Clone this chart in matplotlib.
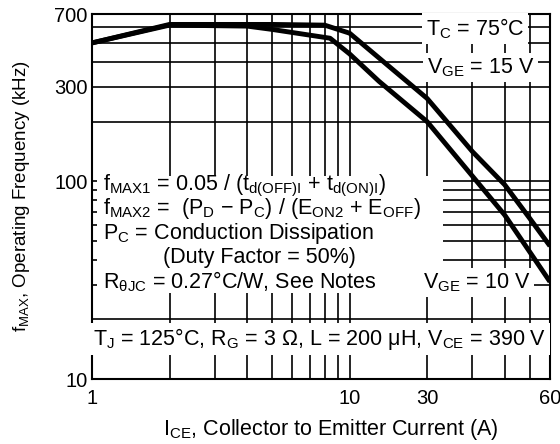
import numpy as np
import matplotlib
matplotlib.use('Agg')
import matplotlib.pyplot as plt
from matplotlib.patches import Rectangle

plt.rcParams['font.family'] = ['Liberation Sans', 'DejaVu Sans']
plt.rcParams['mathtext.fontset'] = 'custom'
plt.rcParams['mathtext.rm'] = 'Liberation Sans'
plt.rcParams['mathtext.it'] = 'Liberation Sans'
plt.rcParams['mathtext.bf'] = 'Liberation Sans:bold'

# curves (I_CE in A, f_MAX in kHz)
ice_15 = [1, 2, 5, 8, 10, 20, 30, 40, 50, 60]
fmax_15 = [500, 620, 620, 615, 560, 262, 141, 96, 65, 47]
ice_10 = [1, 2, 4, 5, 8.4, 10, 13, 20, 30, 40, 50, 60]
fmax_10 = [500, 615, 608, 585, 528, 440, 320, 200, 106, 67.5, 44, 31]

# axis ticks (the sheet prints "30" on the 20 A line)
x_major = [1, 10, 20, 60]
x_labels = ['1', '10', '30', '60']
x_minor = [2, 3, 4, 5, 6, 7, 8, 9, 30, 40, 50]
y_major = [10, 100, 300, 700]
y_labels = ['10', '100', '300', '700']
y_minor = [20, 30, 40, 50, 60, 70, 80, 90, 200, 400, 500, 600]

fs = 15.5

fig = plt.figure(figsize=(5.6, 4.44), dpi=100)
ax = fig.add_axes([92/560, 1-379/444, 458/560, 365/444])
ax.set_xscale('log')
ax.set_yscale('log')
ax.set_xlim(1, 60)
ax.set_ylim(10, 700)

ax.set_xticks(x_major)
ax.set_xticklabels(x_labels)
ax.set_xticks(x_minor, minor=True)
ax.set_xticklabels([], minor=True)
ax.set_yticks(y_major)
ax.set_yticklabels(y_labels)
ax.set_yticks(y_minor, minor=True)
ax.set_yticklabels([], minor=True)
ax.tick_params(which='both', length=0, labelsize=14.5)
ax.tick_params(axis='x', pad=7)
ax.tick_params(axis='y', pad=3)
ax.grid(which='both', color='black', lw=1.2)
for s in ax.spines.values():
    s.set_linewidth(1.5)

ax.plot(ice_15, fmax_15, color='black', lw=3.5, zorder=4, solid_capstyle='butt')
ax.plot(ice_10, fmax_10, color='black', lw=3.5, zorder=4, solid_capstyle='butt')

# white block behind the formula text
ax.add_patch(Rectangle((0.011, 0.236), 0.755, 0.320, transform=ax.transAxes,
                       facecolor='white', edgecolor='none', zorder=2.5))

tx = 0.024
ax.text(tx, 0.518, r'f$_{MAX1}$ = 0.05 / (t$_{d(OFF)I}$ + t$_{d(ON)I}$)',
        transform=ax.transAxes, fontsize=fs, va='baseline', zorder=5)
ax.text(tx, 0.452, r'f$_{MAX2}$ =  (P$_D$ $-$ P$_C$) / (E$_{ON2}$ + E$_{OFF}$)',
        transform=ax.transAxes, fontsize=fs, va='baseline', zorder=5)
ax.text(tx, 0.384, r'P$_C$ = Conduction Dissipation',
        transform=ax.transAxes, fontsize=fs, va='baseline', zorder=5)
ax.text(0.155, 0.318, '(Duty Factor = 50%)',
        transform=ax.transAxes, fontsize=fs, va='baseline', zorder=5)
ax.text(tx, 0.249, r'R$_{\theta JC}$ = 0.27°C/W, See Notes',
        transform=ax.transAxes, fontsize=fs, va='baseline', zorder=5)

box = dict(facecolor='white', edgecolor='none', pad=2.5)
ax.text(0.729, 0.942, r'T$_C$ = 75°C', transform=ax.transAxes, fontsize=fs,
        va='baseline', bbox=box, zorder=5)
ax.text(0.731, 0.838, r'V$_{GE}$ = 15 V', transform=ax.transAxes, fontsize=fs,
        va='baseline', bbox=box, zorder=5)
ax.text(0.723, 0.249, r'V$_{GE}$ = 10 V', transform=ax.transAxes, fontsize=fs,
        va='baseline', bbox=box, zorder=5)
ax.text(0.003, 0.093, r'T$_J$ = 125°C, R$_G$ = 3 Ω, L = 200 μH, V$_{CE}$ = 390 V',
        transform=ax.transAxes, fontsize=fs, va='baseline', bbox=box, zorder=5)

ax.set_xlabel(r'I$_{CE}$, Collector to Emitter Current (A)', fontsize=fs)
ax.xaxis.set_label_coords(0.522, -0.105)
ax.set_ylabel(r'f$_{MAX}$, Operating Frequency (kHz)', fontsize=13.5)
ax.yaxis.set_label_coords(-0.13, 0.5)

fig.savefig('out.png', dpi=100)
